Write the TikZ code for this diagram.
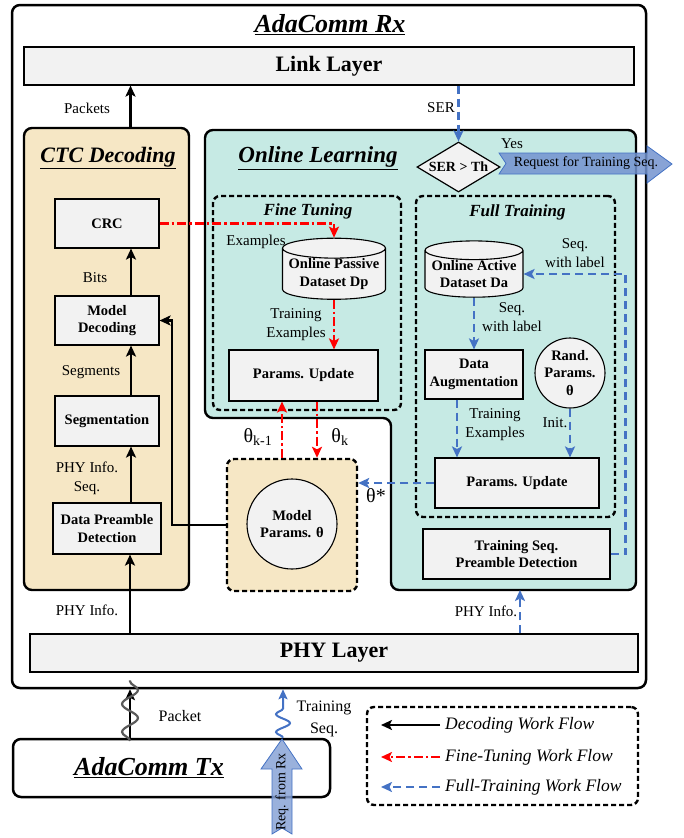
\documentclass[tikz,border=0pt]{standalone}
\usepackage{fontspec}
\setmainfont{Liberation Serif}
\usetikzlibrary{arrows.meta}
\usetikzlibrary{positioning}
\usetikzlibrary{shapes.geometric}
\usetikzlibrary{decorations.pathmorphing}
\definecolor{ctcbg}{HTML}{F6E7C5}
\definecolor{olbg}{HTML}{C6EAE4}
\definecolor{boxgray}{HTML}{F2F2F2}
\definecolor{flblue}{HTML}{4472C4}
\definecolor{reqblue}{HTML}{7393CF}
\definecolor{wavegray}{HTML}{5A5A5A}

\begin{document}
\begin{tikzpicture}[x=1pt,y=-1pt,
  every node/.style={inner sep=0pt},
  blk/.style={draw, line width=1.1pt, fill=boxgray, align=center,
    font=\bfseries\fontsize{14.5}{17.5}\selectfont},
  ttl/.style={font=\bfseries\itshape\fontsize{22}{24}\selectfont},
  lbl/.style={align=center, font=\fontsize{15}{19}\selectfont},
  frame/.style={draw, line width=2.5pt, rounded corners=8pt},
  dashbox/.style={draw, line width=2.4pt, dash pattern=on 5pt off 3pt, rounded corners=7pt},
  flow/.style={line width=2.4pt, -{Stealth[length=11pt, width=10pt, inset=2.5pt]}},
  ftflow/.style={flow, red, dash pattern=on 9pt off 3pt on 2.5pt off 3pt},
  flflow/.style={flow, flblue, dash pattern=on 8pt off 5pt},
  bigarrow/.style={draw=flblue, fill=reqblue, fill opacity=0.85, line width=0.8pt}]
  \useasboundingbox (0,0) rectangle (683,838);

  % receiver frame and layers
  \node[frame, fill=white, minimum width=634, minimum height=683] (rx) at (329,346.5) {};
  \node[ttl, font=\bfseries\itshape\fontsize{26}{28}\selectfont] (rxtitle) at (330,25) {\underline{AdaComm Rx}};
  \node[blk, font=\bfseries\fontsize{22}{24}\selectfont, minimum width=610, minimum height=38] (link) at (329,66) {Link Layer};
  \node[blk, font=\bfseries\fontsize{22}{24}\selectfont, minimum width=608, minimum height=38] (phy) at (334,653) {PHY Layer};

  % CTC decoding
  \node[frame, line width=2.4pt, fill=ctcbg, minimum width=165, minimum height=462] (ctc) at (106.5,359) {};
  \node[ttl] (ctctitle) at (108,158) {\underline{CTC Decoding}};
  \node[blk, minimum width=104, minimum height=49] (crc) at (107,223.5) {CRC};
  \node[blk, minimum width=104, minimum height=49] (dec) at (107,320.5) {Model\\Decoding};
  \node[blk, minimum width=104, minimum height=50] (seg) at (107,421) {Segmentation};
  \node[blk, minimum width=108, minimum height=51] (dpd) at (107,528.5) {Data Preamble\\Detection};

  % online learning
  \draw[line width=2.4pt, fill=olbg, rounded corners=8pt]
    (205,130) -- (636,130) -- (636,590) -- (391,590) -- (391,418) -- (205,418) -- cycle;
  \coordinate (olbot) at (520,590);
  \node[ttl, font=\bfseries\itshape\fontsize{23}{25}\selectfont] (oltitle) at (318,158) {\underline{Online Learning}};
  \node[diamond, draw, line width=1.2pt, fill=boxgray, aspect=1.66, minimum width=83, minimum height=50,
    font=\bfseries\fontsize{14}{16}\selectfont] (ser) at (458.5,167) {SER > Th};

  \node[dashbox, minimum width=188, minimum height=214] (ftbox) at (307,303) {};
  \node[font=\bfseries\itshape\fontsize{17}{19}\selectfont] (fttitle) at (308,211) {Fine Tuning};
  \node[blk, cylinder, shape border rotate=90, aspect=0.22, minimum width=103, minimum height=48] (dp) at (334,274) {Online Passive\\Dataset Dp};
  \node[blk, minimum width=149, minimum height=51] (ftpu) at (303.5,375.5) {Params. Update};

  \node[dashbox, minimum width=199, minimum height=321] (flbox) at (515.5,356.5) {};
  \node[font=\bfseries\itshape\fontsize{17}{19}\selectfont] (fltitle) at (517.5,212) {Full Training};
  \node[blk, cylinder, shape border rotate=90, aspect=0.22, minimum width=98, minimum height=46] (da) at (474,274) {Online Active\\Dataset Da};
  \node[blk, minimum width=98, minimum height=49] (aug) at (474,374.5) {Data\\Augmentation};
  \node[blk, circle, minimum size=70] (rand) at (570,373) {Rand.\\Params.\\θ};
  \node[blk, minimum width=164, minimum height=50] (flpu) at (517,483) {Params. Update};
  \node[blk, minimum width=187, minimum height=50] (tspd) at (516.5,554) {Training Seq.\\Preamble Detection};

  % model parameters
  \node[dashbox, fill=ctcbg, minimum width=130, minimum height=132] (mpbox) at (292,525) {};
  \node[blk, circle, minimum size=90] (mp) at (292,524) {Model\\Params. θ};

  % decoding work flow
  \path[flow]
    ([xshift=24]dpd.north) edge ([xshift=24]seg.south)
    ([xshift=24]seg.north) edge ([xshift=24]dec.south)
    ([xshift=24]dec.north) edge ([xshift=24]crc.south)
    ([xshift=24]ctc.north) edge ([xshift=24]ctc.north |- link.south)
    ([xshift=23]dpd.south |- phy.north) edge ([xshift=23]dpd.south);
  \draw[flow] (mpbox.west) -- ++(-54,0) |- (dec.east);
  \node[lbl] (lbits) at (95,278) {Bits};
  \node[lbl] (lsegs) at (91,372) {Segments};
  \node[lbl] (lphys) at (87,478) {PHY Info.\\Seq.};
  \node[lbl] (lpkts) at (87,108) {Packets};
  \node[lbl] (lphyl) at (87,610) {PHY Info.};

  % fine-tuning work flow
  \draw[ftflow] (crc.east) -| (dp.north);
  \draw[ftflow] (dp.south) -- (dp.south |- ftpu.north);
  \draw[ftflow] ([xshift=-10]mpbox.north) -- ([xshift=-10]mpbox.north |- ftpu.south);
  \draw[ftflow] ([xshift=25]mpbox.north |- ftpu.south) -- ([xshift=25]mpbox.north);
  \node[lbl] (lex) at (256,242) {Examples};
  \node[lbl] (ltex) at (296,325) {Training\\Examples};
  \node[font=\fontsize{20}{22}\selectfont] (lthk1) at (258,437) {θ\textsubscript{k-1}};
  \node[font=\fontsize{20}{22}\selectfont] (lthk) at (340,437) {θ\textsubscript{k}};

  % full-training work flow
  \draw[flflow] (ser.north |- link.south) -- (ser.north);
  \draw[flflow] (da.south) -- (da.south |- aug.north);
  \draw[flflow] ([xshift=-17]aug.south) -- ([xshift=-17]aug.south |- flpu.north);
  \draw[flflow] (rand.south) -- (rand.south |- flpu.north);
  \draw[flflow] (flpu.west) -- (flpu.west -| mpbox.east);
  \draw[flflow] (tspd.east) -- ++(15,0) |- (da.east);
  \draw[flflow] (olbot |- phy.north) -- (olbot);
  \node[lbl] (lser) at (441,108) {SER};
  \node[lbl] (lyes) at (512,144) {Yes};
  \node[lbl] (lseq) at (512,317) {Seq.\\with label};
  \node[lbl] (lseq2) at (575,253) {Seq.\\with label};
  \node[lbl] (ltex2) at (495,425) {Training\\Examples};
  \node[lbl] (linit) at (555,423) {Init.};
  \node[font=\fontsize{20}{22}\selectfont] (lths) at (376,496) {θ*};
  \node[lbl] (lphyr) at (486,611) {PHY Info.};

  % request for training sequence
  \draw[bigarrow] (499,153) -- (647,153) -- (647,146) -- (672,164) -- (647,183) -- (647,174) -- (499,174) -- (506,163.5) -- cycle;
  \node[font=\fontsize{14}{16}\selectfont] (lreq) at (586,163.5) {Request for Training Seq.};

  % transmitter
  \node[frame, minimum width=317, minimum height=58] (tx) at (171.5,768) {};
  \node[ttl, font=\bfseries\itshape\fontsize{26}{28}\selectfont] (txtitle) at (149,768) {\underline{AdaComm Tx}};
  \coordinate (pkt) at ([xshift=-41.5]tx.north);
  \coordinate (trn) at ([xshift=111.5]tx.north);
  \draw[flow, line width=2pt] (pkt) -- (pkt |- rx.south);
  \draw[wavegray, line width=2.2pt, decorate, decoration={snake, amplitude=8pt, segment length=28pt}]
    ([yshift=-3]pkt) -- ([yshift=9]pkt |- rx.south);
  \draw[flblue, line width=2pt, -{Stealth[length=10pt, width=9pt, inset=2pt]}, decorate,
    decoration={snake, amplitude=7pt, segment length=18pt, post length=11pt}]
    (trn) -- (trn |- rx.south);
  \node[lbl, font=\fontsize{16}{22}\selectfont] (lpkt) at (180,716) {Packet};
  \node[lbl, font=\fontsize{16}{22}\selectfont] (ltrn) at (324,719) {Training\\Seq.};
  \draw[bigarrow, fill=reqblue!85!white] (272,834) -- (272,769) -- (261,769) -- (282,739) -- (302,769) -- (292,769) -- (292,834) -- (282,828) -- cycle;
  \node[rotate=90, font=\fontsize{14}{16}\selectfont] (lrfr) at (282,792) {Req. from Rx};

  % legend
  \node[dashbox, minimum width=271, minimum height=98] (legend) at (502.5,756) {};
  \node[anchor=west, font=\itshape\fontsize{17.5}{20}\selectfont] (lgdec) at (445,725) {Decoding Work Flow};
  \node[anchor=west, font=\itshape\fontsize{17.5}{20}\selectfont] (lgft) at (445,757) {Fine-Tuning Work Flow};
  \node[anchor=west, font=\itshape\fontsize{17.5}{20}\selectfont] (lgfl) at (445,787) {Full-Training Work Flow};
  \coordinate (lgdecend) at (381,725);
  \coordinate (lgftend) at (381,757);
  \coordinate (lgflend) at (381,787);
  \draw[flow] ([xshift=-5]lgdec.west) -- (lgdecend);
  \draw[ftflow] ([xshift=-5]lgft.west) -- (lgftend);
  \draw[flflow] ([xshift=-5]lgfl.west) -- (lgflend);
\end{tikzpicture}
\end{document}
